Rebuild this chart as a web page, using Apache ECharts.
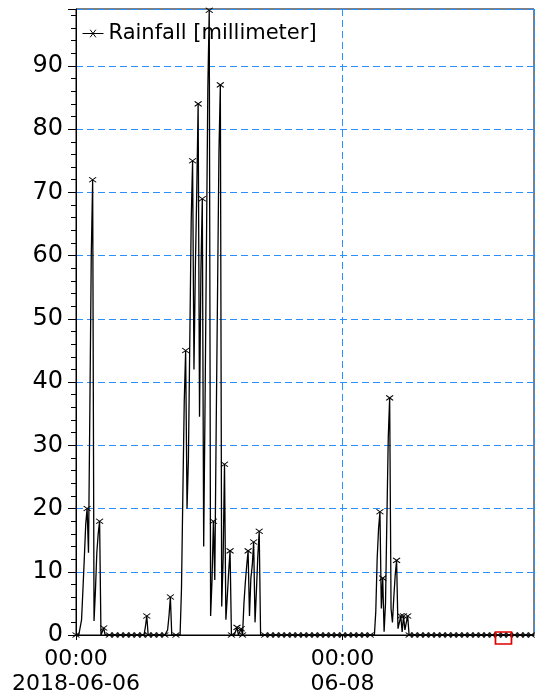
<!DOCTYPE html>
<html>
<head>
<meta charset="utf-8">
<script src="https://cdn.jsdelivr.net/npm/echarts@6/dist/echarts.min.js"></script>
<style>
  html, body { margin: 0; padding: 0; background: #fff; }
  #chart { width: 537px; height: 697px; }
</style>
</head>
<body>
<div id="chart"></div>
<script>
// Rain gauge record, one reading every 15 minutes
const seriesName = 'Rainfall [millimeter]';
const startTime = '2018-06-06T00:00:00';
const endTime = '2018-06-09T10:30:00';
const stepMinutes = 15;

const rainfall = [
  0, 0, 0, 0, 2.4, 7.2, 12.2, 17.5, 20, 13,
  36, 60, 72, 2.2, 7, 13, 16, 18, 0, 0,
  1.1, 0, 0, 0, 0, 0, 0, 0, 0, 0,
  0, 0, 0, 0, 0, 0, 0, 0, 0, 0,
  0, 0, 0, 0, 0, 0, 0, 0, 0, 0,
  1.3, 3, 0, 0, 0, 0, 0, 0, 0, 0,
  0, 0, 0, 0, 0, 0, 0.8, 3, 6, 0,
  0, 0, 0, 0, 0, 0, 7.3, 22.4, 37, 45,
  20, 28, 46.6, 65.5, 75, 42, 58, 70, 84, 34.5,
  57.6, 69, 14, 37, 61.8, 86.6, 98.8, 3, 8.7, 18,
  8.7, 32.6, 54.4, 76.4, 87, 4.5, 12, 27, 2.4, 6,
  10, 13.3, 0, 0, 0, 0, 1.2, 0, 0, 1,
  0, 5, 8.3, 11, 13.3, 3, 9, 11, 14.7, 2,
  7, 12.5, 16.4, 0, 0, 0, 0, 0, 0, 0,
  0, 0, 0, 0, 0, 0, 0, 0, 0, 0,
  0, 0, 0, 0, 0, 0, 0, 0, 0, 0,
  0, 0, 0, 0, 0, 0, 0, 0, 0, 0,
  0, 0, 0, 0, 0, 0, 0, 0, 0, 0,
  0, 0, 0, 0, 0, 0, 0, 0, 0, 0,
  0, 0, 0, 0, 0, 0, 0, 0, 0, 0,
  0, 0, 0, 0, 0, 0, 0, 0, 0, 0,
  0, 0, 0, 0, 0, 0, 3.7, 12.1, 16.8, 19.5,
  4.2, 9, 0.5, 5, 18.4, 31.3, 37.5, 4.2, 2, 6,
  9.5, 11.8, 1, 2, 3, 0.5, 3, 0.8, 2, 3,
  0, 0, 0, 0, 0, 0, 0, 0, 0, 0,
  0, 0, 0, 0, 0, 0, 0, 0, 0, 0,
  0, 0, 0, 0, 0, 0, 0, 0, 0, 0,
  0, 0, 0, 0, 0, 0, 0, 0, 0, 0,
  0, 0, 0, 0, 0, 0, 0, 0, 0, 0,
  0, 0, 0, 0, 0, 0, 0, 0, 0, 0,
  0, 0, 0, 0, 0, 0, 0, 0, 0, 0,
  0, 0, 0, 0, 0, 0, 0, 0, 0, 0,
  0, 0, 0, 0, 0, 0, 0, 0, 0, 0,
  0
];

// Time axis: a labelled tick every two days from the start
const labelEveryDays = 2;
// Reading highlighted with a red box
const flaggedTime = '2018-06-09T05:00:00';

const yMax = 99;
const yStep = 10;

const FONT = 'DejaVu Sans';
const GRID_BLUE = '#2a90ff';
const X_MARK = 'path://M0,0L8,6M8,0L0,6';
const DAY_MS = 86400000;
const READINGS_PER_HOUR = 60 / stepMinutes;

const t0 = new Date(startTime).getTime();
const tEnd = new Date(endTime).getTime();
const seriesData = rainfall.map((v, i) => [t0 + i * stepMinutes * 60000, v]);

// Cross markers: hourly along dry stretches, and on every local rainfall peak
function markerFor(value, params) {
  const i = params.dataIndex;
  const v = rainfall[i];
  if (v === 0) return i % READINGS_PER_HOUR === 0 ? X_MARK : 'none';
  const prev = i > 0 ? rainfall[i - 1] : 0;
  const next = i < rainfall.length - 1 ? rainfall[i + 1] : 0;
  return (v > prev && v >= next) ? X_MARK : 'none';
}

const chart = echarts.init(document.getElementById('chart'), null, { renderer: 'canvas' });

chart.setOption({
  animation: false,
  backgroundColor: '#fff',
  grid: {
    left: 76, right: 3, top: 9, bottom: 60,
    show: true, borderColor: '#000', borderWidth: 1
  },
  legend: {
    left: 82, top: 23, padding: 0,
    itemWidth: 21, itemHeight: 10, itemGap: 4,
    data: [{ name: seriesName, icon: 'path://M0,5L22,5M8,1L14,9M14,1L8,9' }],
    itemStyle: { color: '#000', borderColor: '#000', borderWidth: 1 },
    textStyle: { fontFamily: FONT, fontSize: 21, color: '#000' }
  },
  xAxis: {
    type: 'value',
    min: t0,
    max: tEnd,
    interval: labelEveryDays * DAY_MS,
    axisLine: { show: true, lineStyle: { color: '#000', width: 1 } },
    axisTick: { show: true, length: 5, lineStyle: { color: '#000' } },
    axisLabel: {
      margin: 12,
      showMaxLabel: false,
      fontFamily: FONT, fontSize: 22, color: '#000', lineHeight: 25,
      formatter: function (val) {
        const day = val === t0 ? '{yyyy}-{MM}-{dd}' : '{MM}-{dd}';
        return echarts.time.format(val, '{HH}:{mm}', false) + '\n' +
               echarts.time.format(val, day, false);
      }
    },
    splitLine: { show: true, lineStyle: { color: GRID_BLUE, type: [7, 4], width: 1 } }
  },
  yAxis: {
    type: 'value',
    min: 0, max: yMax, interval: yStep,
    axisLine: { show: true, lineStyle: { color: '#000', width: 1 } },
    axisTick: { show: true, length: 8, lineStyle: { color: '#000' } },
    minorTick: { show: true, splitNumber: 5, length: 5, lineStyle: { color: '#000' } },
    axisLabel: {
      margin: 13, fontFamily: FONT, fontSize: 24, color: '#000',
      showMaxLabel: false
    },
    splitLine: { show: true, lineStyle: { color: GRID_BLUE, type: [7, 4], width: 1 } }
  },
  series: [{
    name: seriesName,
    type: 'line',
    data: seriesData,
    symbol: markerFor,
    symbolSize: [7, 5],
    showSymbol: true,
    itemStyle: { color: '#000', borderColor: '#000', borderWidth: 1 },
    lineStyle: { color: '#000', width: 1.3 },
    emphasis: { disabled: true },
    markPoint: {
      silent: true,
      symbol: 'rect',
      symbolSize: [16, 12],
      symbolOffset: [0, 3],
      itemStyle: { color: 'rgba(0,0,0,0)', borderColor: '#e00000', borderWidth: 1.5 },
      label: { show: false },
      data: [{ coord: [new Date(flaggedTime).getTime(), 0] }]
    }
  }]
});
</script>
</body>
</html>
